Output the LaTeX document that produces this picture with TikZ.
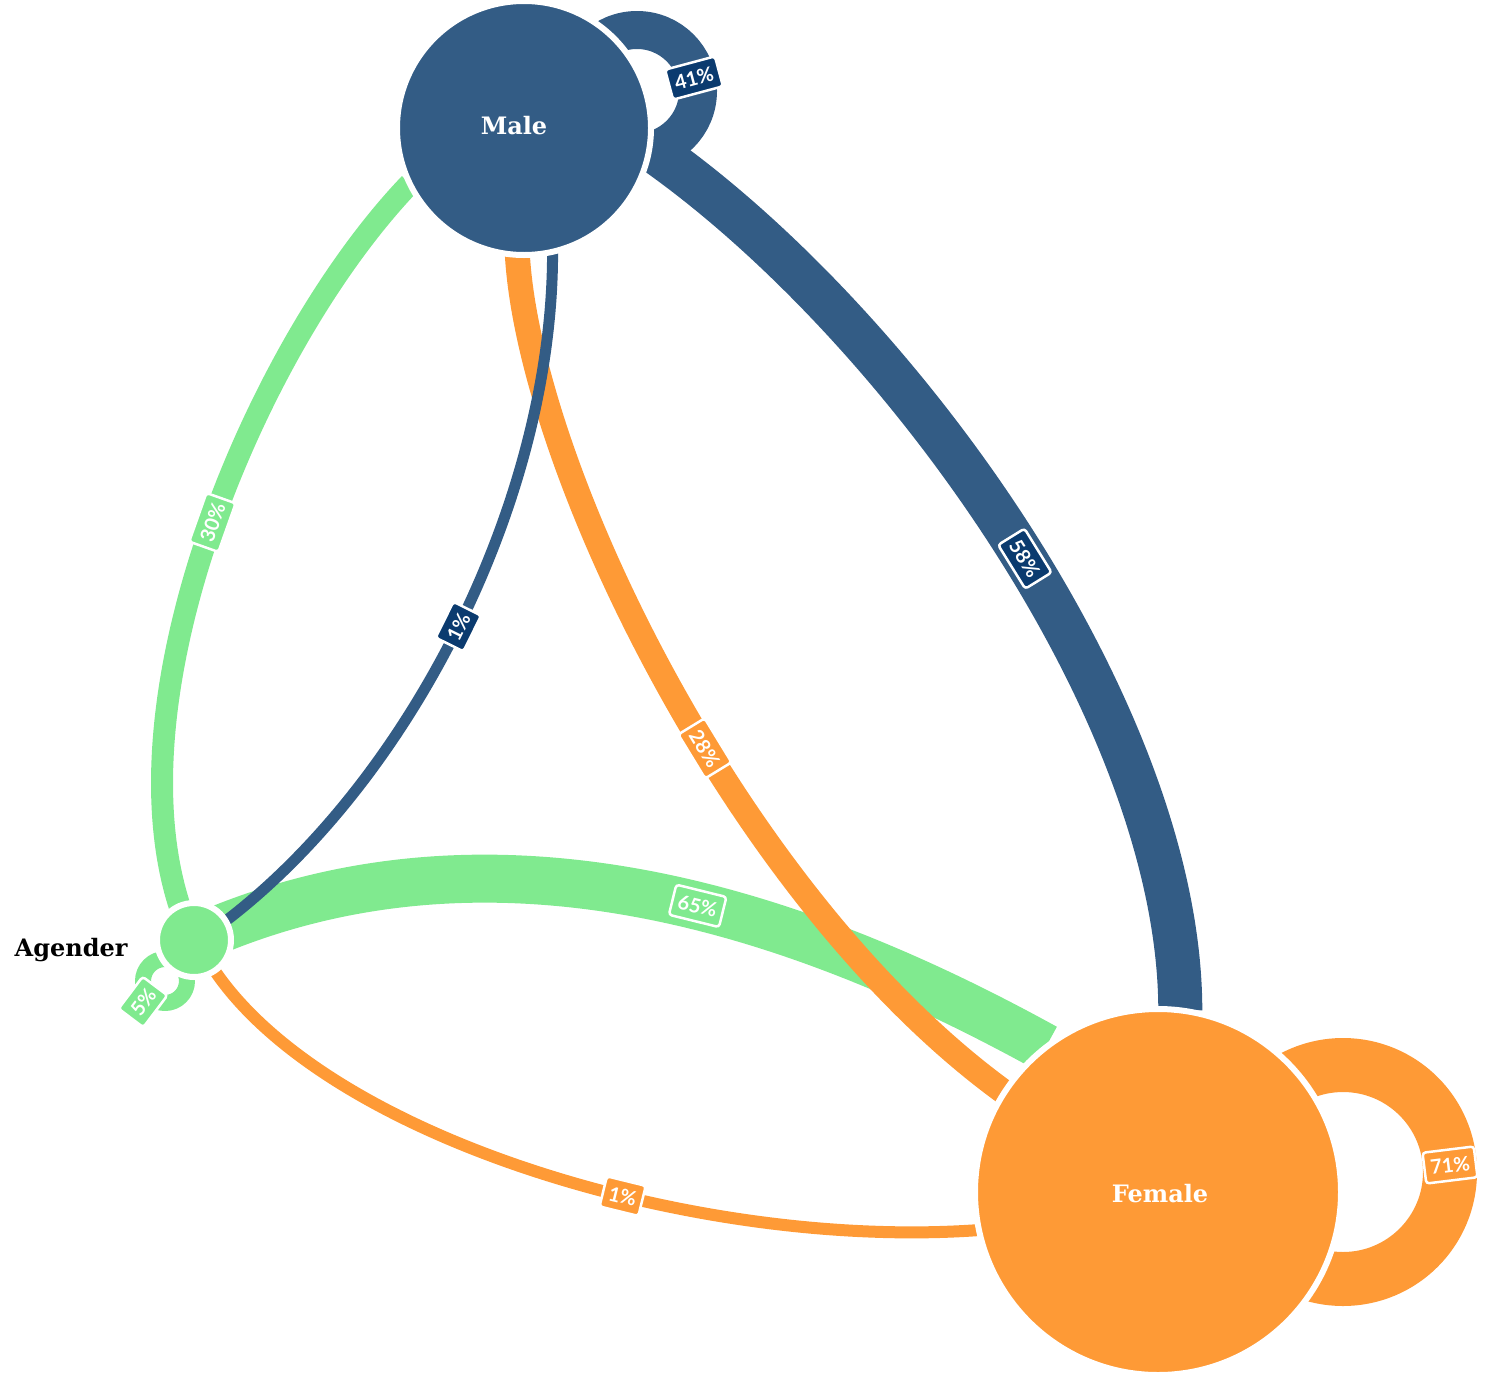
\documentclass[tikz,border=0pt]{standalone}
\usepackage{fontspec}
\setmainfont{DejaVu Serif}
\newfontfamily\latofont{Lato}
\usetikzlibrary{calc}
\pgfdeclarelayer{bg}
\pgfsetlayers{bg,main}
\definecolor{maleC}{HTML}{335C85}
\definecolor{femC}{HTML}{FE9A36}
\definecolor{agC}{HTML}{80EA8F}
\definecolor{navyC}{HTML}{0B3B6F}
\begin{document}
\begin{tikzpicture}[x=1pt,y=-1pt,
  gnode/.style={circle, inner sep=0pt, outer sep=0pt, draw=white, line width=6pt},
  nametext/.style={font=\bfseries\fontsize{24}{30}\selectfont},
  edge/.style={line cap=butt, line join=round},
  pct/.style={draw=white, line width=2.5pt, rounded corners=3pt, text=white,
    font=\latofont\bfseries\fontsize{20}{24}\selectfont, inner xsep=6pt, inner ysep=0pt,
    minimum height=31pt, text height=15pt, text depth=0pt}]
\useasboundingbox (0,0) rectangle (1488,1373);
\clip (0,0) rectangle (1488,1373);

\node[gnode, fill=maleC, minimum size=254pt] (male) at (524,128) {};
\node[gnode, fill=femC, minimum size=366pt] (female) at (1158,1192) {};
\node[gnode, fill=agC, minimum size=74pt] (agender) at (194,940) {};
\node[nametext, text=white] (maletext) at ($(male.center)+(-10,-2)$) {Male};
\node[nametext, text=white] (femtext) at ($(female.center)+(2,2)$) {Female};
\node[nametext, anchor=base east] (agtext) at (131,956) {Agender};

\coordinate (mloop) at ($(male.center)+(113,-37)$);
\coordinate (floop) at ($(female.center)+(185,-20)$);
\coordinate (aloop) at ($(agender.center)+(-29,41)$);

\begin{pgfonlayer}{bg}
  % self loops
  \draw[edge, maleC, line width=38pt] (mloop) circle[radius=61];
  \draw[edge, femC, line width=54pt] (floop) circle[radius=107];
  \draw[edge, agC, line width=16pt] (aloop) circle[radius=22];
  % Agender -> Female (65%)
  \draw[edge, agC, line width=48pt] (agender.center) .. controls (505,800) and (826,927) .. (female.128)
    node[pct, fill=agC, sloped, pos=0.55] (l65) {65\%};
  % Male -> Agender (30%)
  \draw[edge, agC, line width=22pt] (male.206) .. controls (260,340) and (110,690) .. (agender.113)
    node[pct, fill=agC, sloped, pos=0.5] (l30) {30\%};
  % Female -> Agender (1%)
  \draw[edge, femC, line width=12pt] (agender.304) .. controls (330,1140) and (700,1250) .. (female.192)
    node[pct, fill=femC, sloped, pos=0.6] (l1f) {1\%};
  % Female -> Male (28%)
  \draw[edge, femC, line width=25pt] (male.267) .. controls (530,470) and (740,900) .. (female.147)
    node[pct, fill=femC, sloped, pos=0.57] (l28) {28\%};
  % Male -> Female (58%)
  \draw[edge, maleC, line width=44pt] (male.351) .. controls (895,318) and (1180,710) .. (female.83)
    node[pct, fill=navyC, sloped, pos=0.53] (l58) {58\%};
  % Male -> Agender (1%)
  \draw[edge, maleC, line width=11pt] (male.283) .. controls (553,500) and (410,780) .. (agender.31)
    node[pct, fill=navyC, sloped, pos=0.5] (l1m) {1\%};
  % loop labels
  \node[pct, fill=navyC, rotate=15] (l41) at ($(mloop)+(57,-13)$) {41\%};
  \node[pct, fill=femC, rotate=7] (l71) at ($(floop)+(107,-7)$) {71\%};
  \node[pct, fill=agC, rotate=53] (l5) at ($(aloop)+(-22,21)$) {5\%};
\end{pgfonlayer}
\end{tikzpicture}
\end{document}
